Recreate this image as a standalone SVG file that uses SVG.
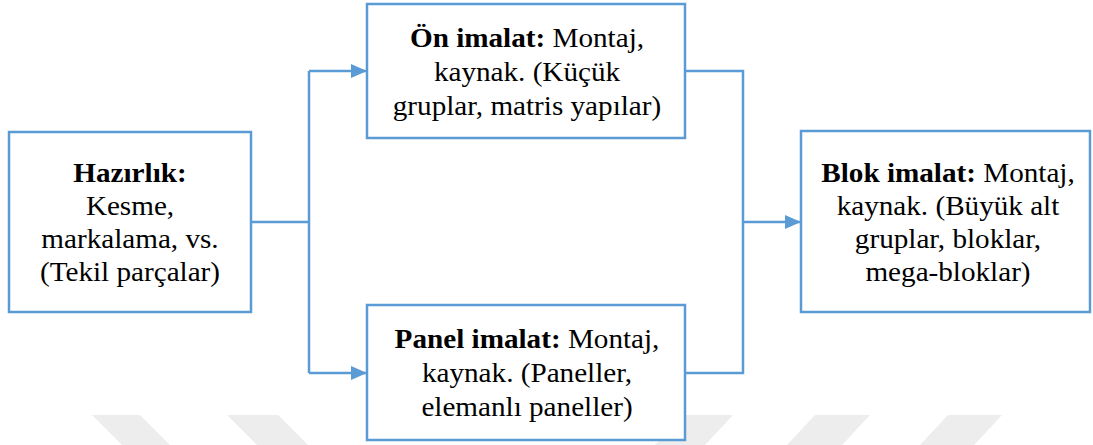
<svg xmlns="http://www.w3.org/2000/svg" width="1093" height="445" viewBox="0 0 1093 445">
  <style>
    .box { fill: #ffffff; stroke: #5b9bd5; stroke-width: 2.5; }
    .wire { fill: none; stroke: #5b9bd5; stroke-width: 2.5; }
    .mark { fill: #ededed; }
    .label { font-family: "Liberation Serif", "Times New Roman", Times, Tinos, "DejaVu Serif", "Noto Serif", serif; font-size: 27px; fill: #000000; text-anchor: middle; }
    .b { font-weight: bold; }
  </style>
  <defs>
    <marker id="arrow" viewBox="0 0 16 14" refX="16" refY="7" markerWidth="16" markerHeight="14" markerUnits="userSpaceOnUse" orient="auto">
      <path d="M0,0 L16,7 L0,14 Z" fill="#5b9bd5"/>
    </marker>
  </defs>

  <rect width="1093" height="445" fill="#ffffff"/>

  <!-- faint background stripes along the bottom edge -->
  <g id="backdrop">
    <polygon class="mark" points="92,415 140,415 170,445 122,445"/>
    <polygon class="mark" points="227,415 278,415 308,445 257,445"/>
    <polygon class="mark" points="683,415 733,415 705,445 655,445"/>
    <polygon class="mark" points="815,415 870,415 842,445 787,445"/>
    <polygon class="mark" points="948,415 1002,415 974,445 920,445"/>
  </g>

  <g id="connectors">
    <path class="wire" d="M252,222 H309"/>
    <path class="wire" d="M309,71 V373"/>
    <path class="wire" d="M309,71 H367" marker-end="url(#arrow)"/>
    <path class="wire" d="M309,373 H367" marker-end="url(#arrow)"/>
    <path class="wire" d="M685,71 H743 V373 H685"/>
    <path class="wire" d="M743,222 H801" marker-end="url(#arrow)"/>
  </g>

  <g id="hazirlik">
    <rect class="box" x="9" y="132" width="242" height="180"/>
    <g class="label" transform="translate(130,0) scale(1.08,1)">
      <text x="0" y="182" class="b">Hazırlık:</text>
      <text x="0" y="215">Kesme,</text>
      <text x="0" y="248">markalama, vs.</text>
      <text x="0" y="281">(Tekil parçalar)</text>
    </g>
  </g>

  <g id="on-imalat">
    <rect class="box" x="367" y="4" width="318" height="134"/>
    <g class="label" transform="translate(527,0) scale(1.08,1)">
      <text x="0" y="47"><tspan class="b">Ön imalat:</tspan> Montaj,</text>
      <text x="0" y="81">kaynak. (Küçük</text>
      <text x="0" y="115">gruplar, matris yapılar)</text>
    </g>
  </g>

  <g id="panel-imalat">
    <rect class="box" x="367" y="305" width="318" height="135"/>
    <g class="label" transform="translate(527,0) scale(1.08,1)">
      <text x="0" y="348"><tspan class="b">Panel imalat:</tspan> Montaj,</text>
      <text x="0" y="382">kaynak. (Paneller,</text>
      <text x="0" y="416">elemanlı paneller)</text>
    </g>
  </g>

  <g id="blok-imalat">
    <rect class="box" x="801" y="131" width="289" height="181"/>
    <g class="label" transform="translate(948,0) scale(1.08,1)">
      <text x="0" y="182"><tspan class="b">Blok imalat:</tspan> Montaj,</text>
      <text x="0" y="215">kaynak. (Büyük alt</text>
      <text x="0" y="248">gruplar, bloklar,</text>
      <text x="0" y="281">mega-bloklar)</text>
    </g>
  </g>
</svg>
